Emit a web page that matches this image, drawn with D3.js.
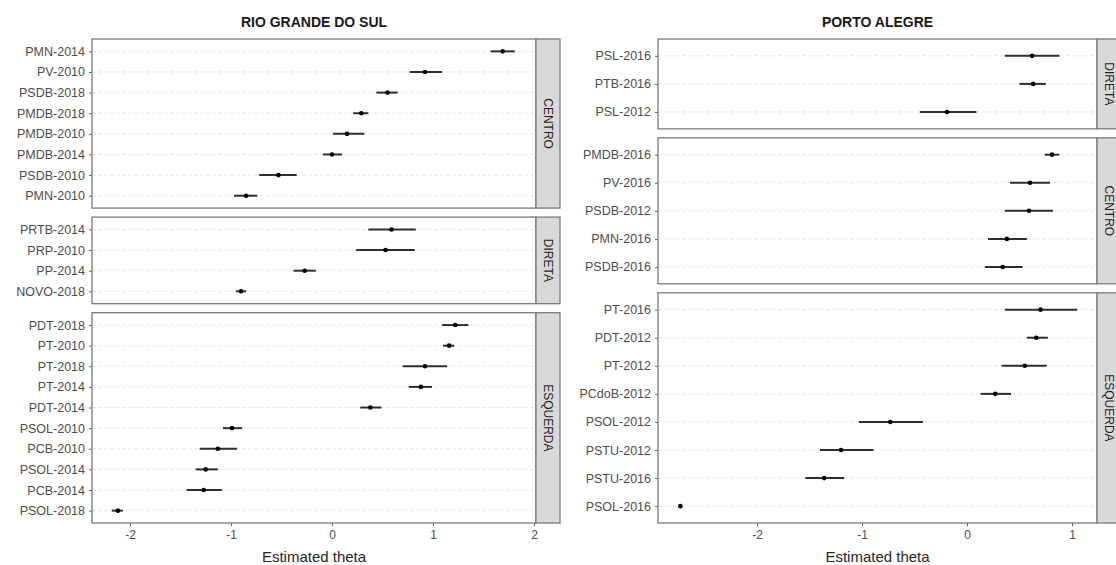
<!DOCTYPE html>
<html>
<head>
<meta charset="utf-8">
<script src="https://cdn.jsdelivr.net/npm/d3@7"></script>
<style>
  html, body { margin: 0; padding: 0; background: #ffffff; }
  svg { display: block; font-family: "Liberation Sans", Arial, sans-serif; }
</style>
</head>
<body>
<svg id="chart" width="1116" height="565"></svg>
<script>
// ---------------- DATA ----------------
// Rio Grande do Sul
const rsTitle = "RIO GRANDE DO SUL";
const rsGroups = ["CENTRO", "DIRETA", "ESQUERDA"];
const rsLabels = [
  "PMN-2014","PV-2010","PSDB-2018","PMDB-2018","PMDB-2010","PMDB-2014","PSDB-2010","PMN-2010",
  "PRTB-2014","PRP-2010","PP-2014","NOVO-2018",
  "PDT-2018","PT-2010","PT-2018","PT-2014","PDT-2014","PSOL-2010","PCB-2010","PSOL-2014","PCB-2014","PSOL-2018"
];
const rsGroupOf = [
  "CENTRO","CENTRO","CENTRO","CENTRO","CENTRO","CENTRO","CENTRO","CENTRO",
  "DIRETA","DIRETA","DIRETA","DIRETA",
  "ESQUERDA","ESQUERDA","ESQUERDA","ESQUERDA","ESQUERDA","ESQUERDA","ESQUERDA","ESQUERDA","ESQUERDA","ESQUERDA"
];
const rsEstimate = [1.69, 0.92, 0.55, 0.29, 0.15, 0.00, -0.53, -0.85,
                    0.59, 0.53, -0.27, -0.90,
                    1.22, 1.16, 0.92, 0.88, 0.38, -0.99, -1.13, -1.25, -1.27, -2.12];
const rsLower =    [1.57, 0.77, 0.44, 0.21, 0.01, -0.09, -0.72, -0.97,
                    0.36, 0.24, -0.38, -0.95,
                    1.09, 1.10, 0.70, 0.76, 0.28, -1.08, -1.31, -1.35, -1.44, -2.18];
const rsUpper =    [1.81, 1.09, 0.65, 0.36, 0.32, 0.10, -0.35, -0.74,
                    0.83, 0.82, -0.16, -0.85,
                    1.35, 1.21, 1.14, 0.99, 0.49, -0.89, -0.94, -1.13, -1.09, -2.07];
const rsTicks = [-2, -1, 0, 1, 2];

// Porto Alegre
const poaTitle = "PORTO ALEGRE";
const poaGroups = ["DIRETA", "CENTRO", "ESQUERDA"];
const poaLabels = [
  "PSL-2016","PTB-2016","PSL-2012",
  "PMDB-2016","PV-2016","PSDB-2012","PMN-2016","PSDB-2016",
  "PT-2016","PDT-2012","PT-2012","PCdoB-2012","PSOL-2012","PSTU-2012","PSTU-2016","PSOL-2016"
];
const poaGroupOf = [
  "DIRETA","DIRETA","DIRETA",
  "CENTRO","CENTRO","CENTRO","CENTRO","CENTRO",
  "ESQUERDA","ESQUERDA","ESQUERDA","ESQUERDA","ESQUERDA","ESQUERDA","ESQUERDA","ESQUERDA"
];
const poaEstimate = [0.62, 0.63, -0.19,
                     0.81, 0.60, 0.59, 0.38, 0.34,
                     0.70, 0.66, 0.55, 0.27, -0.73, -1.20, -1.36, -2.73];
const poaLower =    [0.36, 0.50, -0.45,
                     0.74, 0.41, 0.36, 0.20, 0.17,
                     0.36, 0.57, 0.33, 0.13, -1.03, -1.40, -1.54, -2.73];
const poaUpper =    [0.88, 0.75, 0.09,
                     0.88, 0.79, 0.82, 0.57, 0.53,
                     1.05, 0.77, 0.76, 0.42, -0.42, -0.89, -1.17, -2.73];
const poaTicks = [-2, -1, 0, 1];

const xAxisTitle = "Estimated theta";

// ---------------- DRAW ----------------
const svg = d3.select("#chart");

function drawSide(cfg) {
  const top = 39, bottom = 523, gap = 9;
  const counts = cfg.groups.map(g => cfg.groupOf.filter(v => v === g).length);
  const units = d3.sum(counts, n => n + 0.2);
  const step = (bottom - top - gap * (cfg.groups.length - 1)) / units;

  const x = d3.scaleLinear().domain(cfg.domain).range([cfg.x0, cfg.x1]);

  // Title
  svg.append("text")
    .attr("x", (cfg.x0 + cfg.x1) / 2).attr("y", 27)
    .attr("text-anchor", "middle")
    .attr("font-size", "14px").attr("font-weight", "bold")
    .attr("fill", "#1a1a1a")
    .text(cfg.title);

  let yCursor = top;
  cfg.groups.forEach((g, gi) => {
    const idx = d3.range(cfg.labels.length).filter(i => cfg.groupOf[i] === g);
    const h = step * (counts[gi] + 0.2);
    const y = d3.scalePoint()
      .domain(idx.map(i => cfg.labels[i]))
      .range([yCursor, yCursor + h])
      .padding(0.6);

    const panel = svg.append("g");

    panel.append("rect")
      .attr("x", cfg.x0).attr("y", yCursor)
      .attr("width", cfg.x1 - cfg.x0).attr("height", h)
      .attr("fill", "#ffffff");

    // gridlines
    panel.selectAll("line.grid").data(idx).enter().append("line")
      .attr("class", "grid")
      .attr("x1", cfg.x0).attr("x2", cfg.x1)
      .attr("y1", i => y(cfg.labels[i])).attr("y2", i => y(cfg.labels[i]))
      .attr("stroke", "#e6e6e6").attr("stroke-width", 1)
      .attr("stroke-dasharray", "4,2");

    // error bars
    panel.selectAll("line.err").data(idx).enter().append("line")
      .attr("class", "err")
      .attr("x1", i => x(cfg.lower[i])).attr("x2", i => x(cfg.upper[i]))
      .attr("y1", i => y(cfg.labels[i])).attr("y2", i => y(cfg.labels[i]))
      .attr("stroke", "#2e2e2e").attr("stroke-width", 2);

    // points
    panel.selectAll("circle.pt").data(idx).enter().append("circle")
      .attr("class", "pt")
      .attr("cx", i => x(cfg.estimate[i]))
      .attr("cy", i => y(cfg.labels[i]))
      .attr("r", 2.3)
      .attr("fill", "#000000");

    // y axis
    const yAxis = panel.append("g")
      .attr("transform", `translate(${cfg.x0},0)`)
      .call(d3.axisLeft(y).tickSize(3).tickPadding(4));
    yAxis.select(".domain").remove();
    yAxis.selectAll(".tick line").attr("stroke", "#666");
    yAxis.selectAll(".tick text")
      .attr("font-size", "12.5px")
      .attr("fill", "#4d4d4d")
      .attr("font-family", "Liberation Sans, Arial, sans-serif");

    // panel border
    panel.append("rect")
      .attr("x", cfg.x0).attr("y", yCursor)
      .attr("width", cfg.x1 - cfg.x0).attr("height", h)
      .attr("fill", "none").attr("stroke", "#7a7a7a").attr("stroke-width", 1.3);

    // strip
    const sx = cfg.x1, sw = 24;
    panel.append("rect")
      .attr("x", sx).attr("y", yCursor)
      .attr("width", sw).attr("height", h)
      .attr("fill", "#d9d9d9").attr("stroke", "#7a7a7a").attr("stroke-width", 1.3);
    panel.append("text")
      .attr("transform", `translate(${sx + sw / 2},${yCursor + h / 2}) rotate(90)`)
      .attr("text-anchor", "middle")
      .attr("dominant-baseline", "central")
      .attr("font-size", "12px")
      .attr("fill", "#1f1f1f")
      .text(g);

    // x axis below the bottom panel
    if (gi === cfg.groups.length - 1) {
      const xAxis = svg.append("g")
        .attr("transform", `translate(0,${yCursor + h})`)
        .call(d3.axisBottom(x).tickValues(cfg.ticks).tickSize(3).tickPadding(4)
          .tickFormat(d => String(d)));
      xAxis.select(".domain").remove();
      xAxis.selectAll(".tick line").attr("stroke", "#666");
      xAxis.selectAll(".tick text")
        .attr("font-size", "12px")
        .attr("fill", "#4d4d4d")
        .attr("font-family", "Liberation Sans, Arial, sans-serif");

      svg.append("text")
        .attr("x", (cfg.x0 + cfg.x1) / 2).attr("y", 562)
        .attr("text-anchor", "middle")
        .attr("font-size", "15px")
        .attr("fill", "#262626")
        .text(xAxisTitle);
    }

    yCursor += h + gap;
  });
}

drawSide({
  title: rsTitle, groups: rsGroups, labels: rsLabels, groupOf: rsGroupOf,
  estimate: rsEstimate, lower: rsLower, upper: rsUpper, ticks: rsTicks,
  x0: 92, x1: 536, domain: [-2.376, 2.02]
});
drawSide({
  title: poaTitle, groups: poaGroups, labels: poaLabels, groupOf: poaGroupOf,
  estimate: poaEstimate, lower: poaLower, upper: poaUpper, ticks: poaTicks,
  x0: 658, x1: 1097, domain: [-2.943, 1.238]
});
</script>
</body>
</html>
